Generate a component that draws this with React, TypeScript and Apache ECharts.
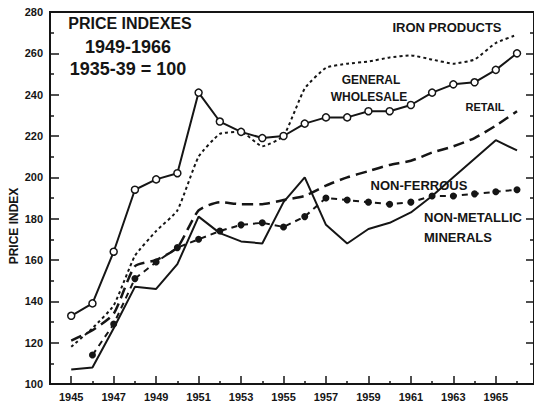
import React, { useEffect, useRef } from "react";
import * as echarts from "echarts";

const years = [1945, 1946, 1947, 1948, 1949, 1950, 1951, 1952, 1953, 1954, 1955, 1956, 1957, 1958, 1959, 1960, 1961, 1962, 1963, 1964, 1965, 1966];

const generalWholesale = [133, 139, 164, 194, 199, 202, 241, 227, 222, 219, 220, 226, 229, 229, 232, 232, 235, 241, 245, 246, 252, 260];
const ironProducts = [118, 127, 138, 162, 174, 184, 210, 221, 222, 215, 220, 243, 253, 255, 256, 258, 259, 257, 255, 257, 265, 269];
const retail = [121, 126, 134, 157, 160, 166, 184, 188, 187, 187, 189, 191, 196, 200, 203, 206, 208, 212, 215, 219, 225, 232];
const nonFerrous = [107, 108, 127, 147, 146, 158, 181, 173, 169, 168, 188, 200, 177, 168, 175, 178, 183, 191, 200, 209, 218, 213];
const nonMetallic = [null, 114, 129, 151, 159, 166, 170, 174, 177, 178, 176, 181, 190, 189, 188, 187, 188, 191, 191, 192, 193, 194];

const xLabelYears = [1945, 1947, 1949, 1951, 1953, 1955, 1957, 1959, 1961, 1963, 1965];
const xMinorYears = [1946, 1948, 1950, 1952, 1954, 1956, 1958, 1960, 1962, 1964, 1966];

const titleLines = ["PRICE INDEXES", "1949-1966", "1935-39 = 100"];
const yAxisTitle = "PRICE INDEX";

const INK = "#151515";
const FONT = '"Liberation Sans", Arial, sans-serif';

function pairs(vals: (number | null)[]) {
  const out: [number, number][] = [];
  vals.forEach((v, i) => {
    if (v !== null) out.push([years[i], v]);
  });
  return out;
}

function label(text: string, x: number, y: number, size: number, align = "center") {
  return {
    type: "text",
    x,
    y,
    z: 100,
    style: {
      text,
      fill: INK,
      font: `bold ${size}px ${FONT}`,
      align,
      verticalAlign: "middle",
    },
  };
}

export default function App() {
  const ref = useRef<HTMLDivElement>(null);
  useEffect(() => {
    if (!ref.current) return;
    const chart = echarts.init(ref.current, undefined, { renderer: "svg" });
    const axisFont = { color: INK, fontFamily: FONT, fontWeight: "bold", fontSize: 11 };
    chart.setOption({
      animation: false,
      backgroundColor: "#ffffff",
      grid: {
        left: 50,
        top: 12,
        width: 486,
        height: 379,
        show: true,
        borderColor: INK,
        borderWidth: 2,
        containLabel: false,
      },
      xAxis: [
        {
          type: "value",
          position: "bottom",
          min: 1944,
          max: 1966.8,
          axisLine: { show: true, lineStyle: { color: INK, width: 2 } },
          axisTick: { show: true, inside: true, length: 8, customValues: xLabelYears, lineStyle: { color: INK, width: 1.5 } },
          axisLabel: { show: true, customValues: xLabelYears, margin: 7, ...axisFont, formatter: (v: number) => String(v) },
          splitLine: { show: false },
        },
        {
          type: "value",
          position: "bottom",
          min: 1944,
          max: 1966.8,
          axisLine: { show: false },
          axisTick: { show: true, inside: true, length: 3, customValues: xMinorYears, lineStyle: { color: INK, width: 1.5 } },
          axisLabel: { show: false },
          splitLine: { show: false },
        },
      ],
      yAxis: [
        {
          type: "value",
          position: "left",
          min: 100,
          max: 280,
          interval: 20,
          axisLine: { show: true, lineStyle: { color: INK, width: 2 } },
          axisTick: { show: true, inside: true, length: 9, lineStyle: { color: INK, width: 1.5 } },
          minorTick: { show: true, splitNumber: 2, length: 4, lineStyle: { color: INK, width: 1.5 } },
          axisLabel: { show: true, margin: 7, ...axisFont },
          splitLine: { show: false },
        },
        {
          type: "value",
          position: "right",
          min: 100,
          max: 280,
          interval: 20,
          axisLine: { show: true, lineStyle: { color: INK, width: 2 } },
          axisTick: { show: true, inside: true, length: 8, lineStyle: { color: INK, width: 1.5 } },
          minorTick: { show: true, splitNumber: 2, length: 4, lineStyle: { color: INK, width: 1.5 } },
          axisLabel: { show: false },
          splitLine: { show: false },
        },
      ],
      series: [
        {
          name: "General Wholesale",
          type: "line",
          data: pairs(generalWholesale),
          symbol: "circle",
          symbolSize: 7,
          showSymbol: true,
          lineStyle: { color: INK, width: 2 },
          itemStyle: { color: "#ffffff", borderColor: INK, borderWidth: 1.5 },
          z: 5,
        },
        {
          name: "Iron Products",
          type: "line",
          data: pairs(ironProducts),
          symbol: "none",
          smooth: 0.15,
          lineStyle: { color: INK, width: 2, type: [3, 3] },
        },
        {
          name: "Retail",
          type: "line",
          data: pairs(retail),
          symbol: "none",
          smooth: 0.2,
          lineStyle: { color: INK, width: 2.5, type: [11, 6] },
        },
        {
          name: "Non-Ferrous",
          type: "line",
          data: pairs(nonFerrous),
          symbol: "none",
          lineStyle: { color: INK, width: 2 },
        },
        {
          name: "Non-Metallic Minerals",
          type: "line",
          data: pairs(nonMetallic),
          symbol: "circle",
          symbolSize: 7,
          lineStyle: { color: INK, width: 2, type: [6, 5] },
          itemStyle: { color: INK },
        },
      ],
      graphic: [
        label(titleLines[0], 130, 23, 16),
        label(titleLines[1], 128, 47, 18),
        label(titleLines[2], 128, 69, 18),
        label("IRON PRODUCTS", 447, 27, 13),
        label("GENERAL", 371, 80, 12),
        label("WHOLESALE", 369, 97, 12),
        label("RETAIL", 485, 107, 11),
        label("NON-FERROUS", 419, 185, 13),
        label("NON-METALLIC", 424, 217, 13, "left"),
        label("MINERALS", 424, 237, 13, "left"),
        {
          type: "text",
          x: 14,
          y: 226,
          rotation: Math.PI / 2,
          z: 100,
          style: {
            text: yAxisTitle,
            fill: INK,
            font: `bold 12px ${FONT}`,
            align: "center",
            verticalAlign: "middle",
          },
        },
      ],
    });
    return () => chart.dispose();
  }, []);
  return (
    <div
      ref={ref}
      style={{ position: "absolute", left: 0, top: 0, width: 534, height: 402, overflow: "hidden", background: "#fff" }}
    />
  );
}
